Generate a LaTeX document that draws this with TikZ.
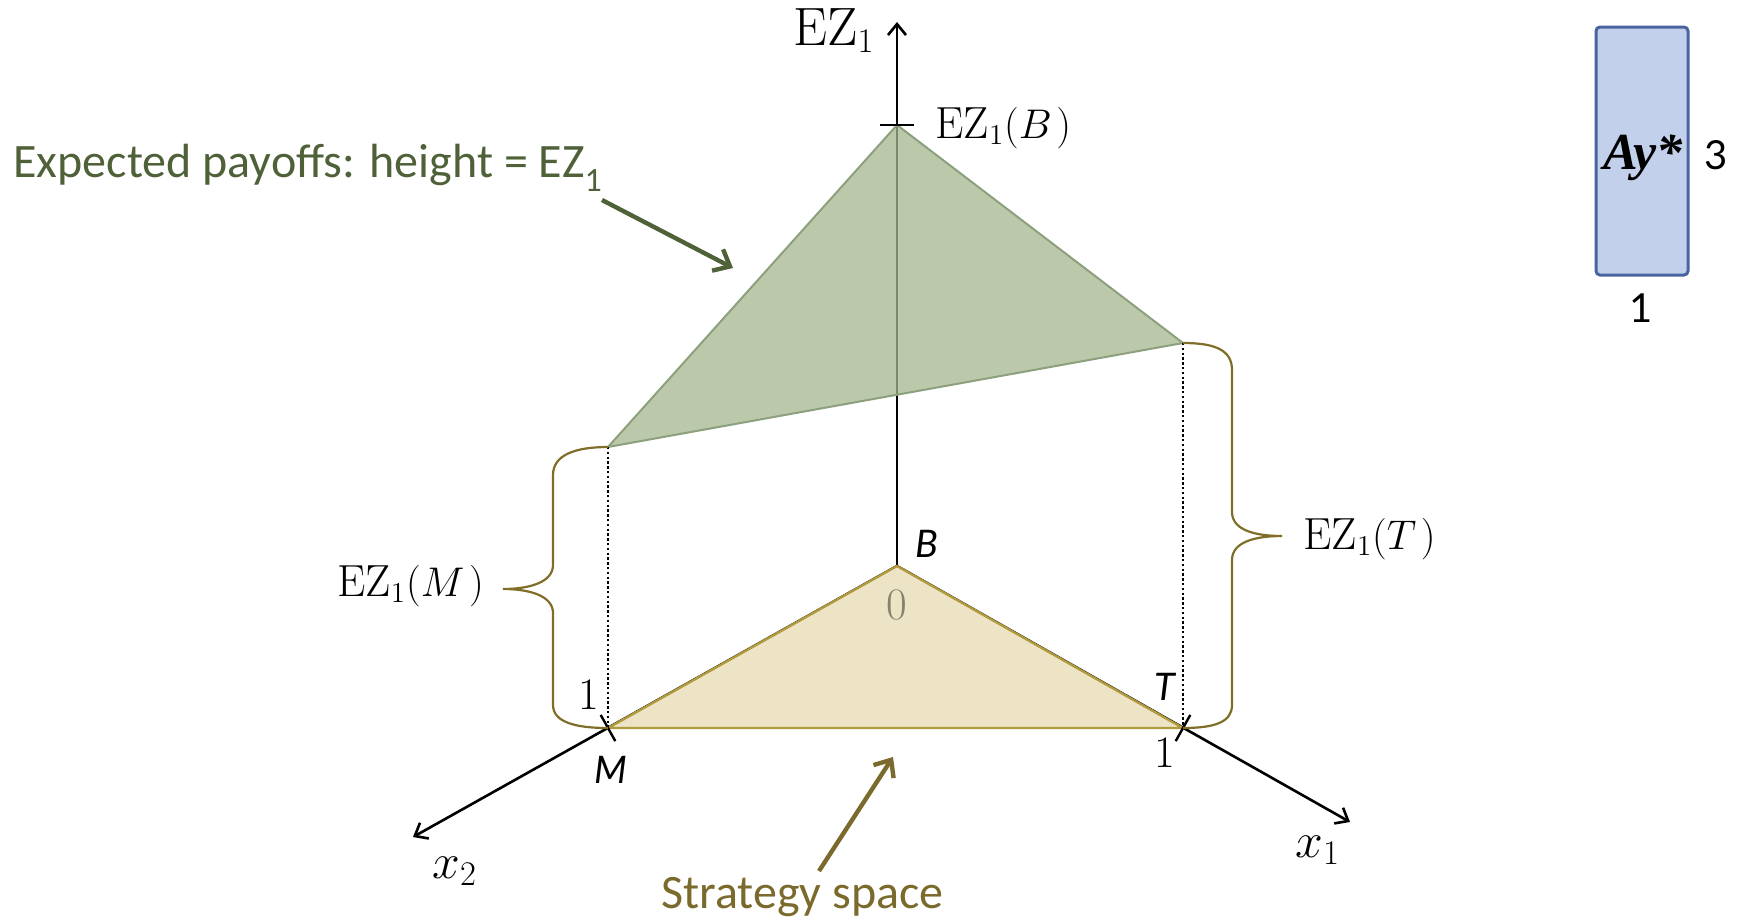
\documentclass[tikz,border=0pt]{standalone}
\usepackage{fontspec}
\newfontfamily\carlito{Carlito}
\newfontfamily\lato{Lato}
\newfontfamily\libser{Liberation Serif}
\usetikzlibrary{arrows.meta}
\definecolor{gfill}{RGB}{164,183,142}
\definecolor{gedge}{RGB}{140,160,125}
\definecolor{yfill}{RGB}{236,228,197}
\definecolor{yedge}{RGB}{176,154,62}
\definecolor{bracec}{RGB}{128,110,40}
\definecolor{egreen}{RGB}{79,97,56}
\definecolor{solive}{RGB}{122,106,44}
\definecolor{zerog}{RGB}{135,130,110}
\definecolor{bfill}{RGB}{194,208,235}
\definecolor{bborder}{RGB}{74,100,162}
\tikzset{
  axis/.style={line width=1.3pt, -{Straight Barb[length=5.5pt,width=9pt]}},
  tickl/.style={line width=1.2pt},
  bracel/.style={line width=1.1pt, bracec},
  dotl/.style={line width=0.9pt, dash pattern=on 1.2pt off 1.2pt},
  bigarrow/.style={line width=2.2pt, -{Straight Barb[length=7pt,width=12pt]}},
  lbl/.style={inner sep=0pt, font=\fontsize{22.5}{27}\selectfont},
  sl/.style={inner sep=0pt, font=\lato\itshape\fontsize{19}{23}\selectfont},
}
\begin{document}
\begin{tikzpicture}[x=0.5pt,y=-0.5pt]
\useasboundingbox (0,0) rectangle (1740,922);
% key points
\coordinate (O) at (897,566);
\coordinate (M) at (608,728);
\coordinate (T) at (1183,728);
\coordinate (GB) at (897,125);
\coordinate (GM) at (608,447);
\coordinate (GT) at (1183,343);
\coordinate (Ztip) at (897,22);
\coordinate (X2tip) at (413,837);
\coordinate (X1tip) at (1350,822);
% axes
\draw[axis] (O) -- (X2tip);
\draw[axis] (O) -- (X1tip);
\draw[axis] (O) -- (Ztip);
% strategy simplex
\draw[fill=yfill, draw=yedge, line width=1.2pt, line join=round] (O) -- (M) -- (T) -- cycle;
% payoff triangle
\fill[gfill, fill opacity=0.75] (GB) -- (GM) -- (GT) -- cycle;
\draw[gedge, line width=1pt, line join=round] (GB) -- (GM) -- (GT) -- cycle;
% dotted verticals
\draw[dotl] (GM) -- (M);
\draw[dotl] (GT) -- (T);
% ticks
\draw[tickl] (880,125) -- (914,125);
\draw[tickl] (M) ++(-7.3,-13.1) -- ++(14.6,26.2);
\draw[tickl] (T) ++(7.3,-13.1) -- ++(-14.6,26.2);
% braces
\draw[bracel] (GM) .. controls (575,447) and (553,455) .. (553,475) -- (553,565)
  .. controls (553,582) and (530,589) .. (503,589)
  .. controls (530,589) and (553,596) .. (553,613) -- (553,705)
  .. controls (553,722) and (575,728) .. (M);
\draw[bracel] (GT) .. controls (1215,343) and (1232,350) .. (1232,370) -- (1232,512)
  .. controls (1232,530) and (1255,536) .. (1282,536)
  .. controls (1255,536) and (1232,542) .. (1232,560) -- (1232,705)
  .. controls (1232,722) and (1215,728) .. (T);
% labels
\node[lbl, anchor=base west, font=\fontsize{27}{32}\selectfont] (ezlab) at (793,45) {$\mathrm{EZ}_1$};
\node[lbl, anchor=base west] (ezb) at (935,138) {$\mathrm{EZ}_1(B\mskip2mu)$};
\node[lbl, anchor=base west] (ezm) at (337,596) {$\mathrm{EZ}_1(M\mskip2mu)$};
\node[lbl, anchor=base west] (ezt) at (1303,549) {$\mathrm{EZ}_1(T\mskip2mu)$};
\node[lbl, anchor=base] (oneM) at (589,709) {1};
\node[lbl, anchor=base] (oneT) at (1165,767) {1};
\node[lbl, anchor=base, text=zerog] (zero) at (897,619) {0};
\node[lbl, anchor=base west, font=\fontsize{25}{30}\selectfont] (x2) at (432,878) {$x_2$};
\node[lbl, anchor=base west, font=\fontsize{25}{30}\selectfont] (x1) at (1295,857) {$x_1$};
\node[sl, anchor=base] (Mlab) at (611,783) {M};
\node[sl, anchor=base] (Tlab) at (1165,700) {T};
\node[sl, anchor=base] (Blab) at (927,557) {B};
% annotations
\node[inner sep=0pt, anchor=base west, text=egreen, font=\carlito\fontsize{24}{28}\selectfont] (exp) at (13,177)
  {Expected payoffs: height = EZ\raisebox{-.3em}{\fontsize{17}{17}\selectfont 1}};
\coordinate (ea0) at (602,200);
\coordinate (ea1) at (733,268);
\draw[bigarrow, egreen] (ea0) -- (ea1);
\node[inner sep=0pt, anchor=base west, text=solive, font=\carlito\fontsize{24}{28}\selectfont] (strat) at (661,908) {Strategy space};
\coordinate (sa0) at (819,871);
\coordinate (sa1) at (893,757);
\draw[bigarrow, solive] (sa0) -- (sa1);
% blue box
\node[draw=bborder, fill=bfill, line width=1.5pt, rounded corners=2pt, minimum width=46pt, minimum height=124pt, inner sep=0pt] (box) at (1642,151) {};
\node[inner sep=0pt, anchor=base, font=\libser\bfseries\itshape\fontsize{26}{30}\selectfont] (ay) at (1643,169) {Ay*};
\node[inner sep=0pt, anchor=base, font=\lato\fontsize{20}{24}\selectfont] (three) at (1716,169) {3};
\node[inner sep=0pt, anchor=base, font=\lato\fontsize{20}{24}\selectfont] (onebox) at (1641,322) {1};
\end{tikzpicture}
\end{document}
